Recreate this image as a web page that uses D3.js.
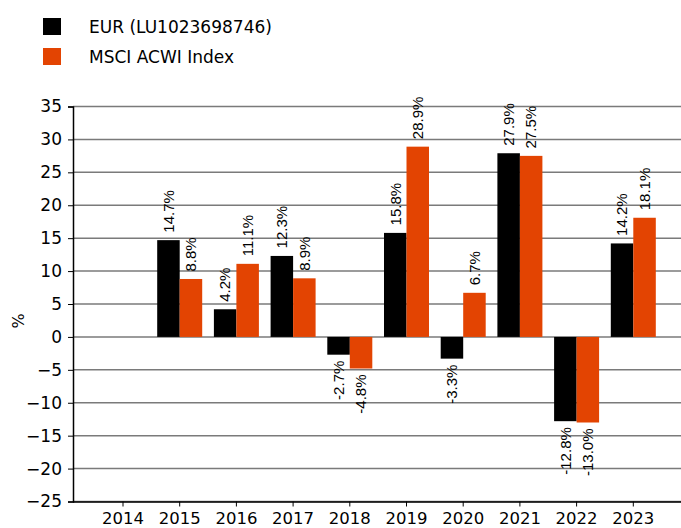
<!DOCTYPE html>
<html><head><meta charset="utf-8">
<script src="https://cdn.jsdelivr.net/npm/d3@7"></script>
<style>body{margin:0;background:#fff}svg{display:block}</style>
</head><body>
<svg id="c" width="681" height="528"></svg>
<script>
const years = ["2014","2015","2016","2017","2018","2019","2020","2021","2022","2023"];
const eurValues = [null,14.7,4.2,12.3,-2.7,15.8,-3.3,27.9,-12.8,14.2];
const msciValues = [null,8.8,11.1,8.9,-4.8,28.9,6.7,27.5,-13.0,18.1];
const seriesNames = ["EUR (LU1023698746)","MSCI ACWI Index"];
const yTicks = [35,30,25,20,15,10,5,0,-5,-10,-15,-20,-25];
const colors = ["#000000","#e34402"];

(function(){
const svg = d3.select("#c");
const axisFont = "DejaVu Sans";
const pLeft = 73, pRight = 681, pTop = 106.5, pBottom = 501.5;

const y = d3.scaleLinear().domain([-25,35]).range([pBottom, pTop]);
const step = 56.7;
const x = d3.scaleBand().domain(years).range([123 - step/2, 123 + step*9.5]).padding(0);
const inner = d3.scaleBand().domain([0,1]).range([0, 45]);

svg.append("g").selectAll("line").data(yTicks).join("line")
  .attr("x1", pLeft).attr("x2", pRight)
  .attr("y1", d => y(d)).attr("y2", d => y(d))
  .attr("stroke", "#7a7a7a").attr("stroke-width", 1.5);

const yAxis = svg.append("g").attr("transform", `translate(${pLeft},0)`)
  .call(d3.axisLeft(y).tickValues(yTicks).tickSize(5).tickPadding(6).tickFormat(d3.format("d")));
yAxis.select(".domain").attr("stroke", "#000").attr("stroke-width", 1.5);
yAxis.selectAll(".tick line").attr("stroke", "#000");
yAxis.selectAll("text").attr("font-family", axisFont).attr("font-size", 17).attr("fill", "#000");

const xAxis = svg.append("g").attr("transform", `translate(0,${pBottom})`)
  .call(d3.axisBottom(x).tickSize(5).tickSizeOuter(0).tickPadding(6));
xAxis.select(".domain").attr("d", `M${pLeft},0.5H${pRight}`).attr("stroke", "#000").attr("stroke-width", 1.5);
xAxis.selectAll(".tick line").attr("stroke", "#000");
xAxis.selectAll("text").attr("font-family", axisFont).attr("font-size", 16.5).attr("fill", "#000");

svg.append("text").attr("transform", "translate(18,321) rotate(-90)")
  .attr("text-anchor", "middle").attr("dy", "0.35em")
  .attr("font-family", axisFont).attr("font-size", 16).text("%");

const series = [eurValues, msciValues];
series.forEach((vals, si) => {
  const data = years.map((yr, i) => ({yr, v: vals[i]})).filter(d => d.v !== null);
  const bx = d => x(d.yr) + x.bandwidth()/2 - 22.5 + inner(si);
  svg.append("g").selectAll("rect").data(data).join("rect")
    .attr("x", bx)
    .attr("width", inner.bandwidth())
    .attr("y", d => y(Math.max(0, d.v)))
    .attr("height", d => Math.abs(y(d.v) - y(0)))
    .attr("fill", colors[si]);
  svg.append("g").selectAll("text").data(data).join("text")
    .attr("transform", d => {
      const cx = bx(d) + inner.bandwidth()/2;
      const cy = d.v >= 0 ? y(d.v) - 7.5 : y(d.v) + 6;
      return `translate(${cx},${cy}) rotate(-90)`;
    })
    .attr("text-anchor", d => d.v >= 0 ? "start" : "end")
    .attr("dy", "0.35em")
    .attr("font-family", "Liberation Sans, Arial, sans-serif")
    .attr("font-size", 15).attr("fill", "#000")
    .text(d => d.v.toFixed(1) + "%");
});

const lg = svg.append("g");
seriesNames.forEach((n, i) => {
  lg.append("rect").attr("x", 43).attr("y", 18 + i*30).attr("width", 18).attr("height", 17).attr("fill", colors[i]);
  lg.append("text").attr("x", 89).attr("y", 33 + i*30)
    .attr("font-family", axisFont).attr("font-size", 17).attr("fill", "#000").text(n);
});
})();
</script>
</body></html>
